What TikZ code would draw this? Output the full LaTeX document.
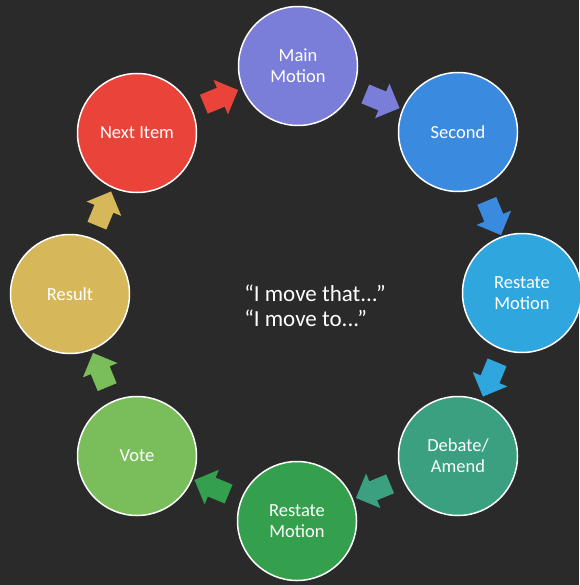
\documentclass[tikz,border=0pt]{standalone}
\usepackage{fontspec}
\setmainfont{Carlito}
\usetikzlibrary{shapes.arrows,calc}
\definecolor{bg}{RGB}{42,42,42}
\definecolor{cMain}{RGB}{122,126,216}
\definecolor{cSecond}{RGB}{58,138,224}
\definecolor{cRestA}{RGB}{48,166,222}
\definecolor{cDebate}{RGB}{58,160,128}
\definecolor{cRestB}{RGB}{52,160,78}
\definecolor{cVote}{RGB}{122,190,92}
\definecolor{cResult}{RGB}{214,184,90}
\definecolor{cNext}{RGB}{234,68,58}
\tikzset{
  stage/.style={circle, draw=white, line width=1.5pt, fill=#1, minimum size=119pt,
    inner sep=0pt, text=white, font=\fontsize{18.5}{21}\selectfont, align=center},
  blockarrow/.style={single arrow, fill=#1, draw=none, minimum height=37pt,
    inner xsep=0pt, inner ysep=10pt, single arrow head extend=8.5pt},
}
\begin{document}
\begin{tikzpicture}[x=1pt,y=-1pt]
\fill[bg] (0,0) rectangle (579,585);
\useasboundingbox (0,0) rectangle (579,585);
\coordinate (c) at (297,294);
\node[stage=cMain]   (s1) at (298,66)  {Main\\Motion};
\node[stage=cSecond] (s2) at (458,132) {Second};
\node[stage=cRestA]  (s3) at (522,293) {Restate\\Motion};
\node[stage=cDebate] (s4) at (458,456) {Debate/\\Amend};
\node[stage=cRestB]  (s5) at (297,521) {Restate\\Motion};
\node[stage=cVote]   (s6) at (137,456) {Vote};
\node[stage=cResult] (s7) at (70,294)  {Result};
\node[stage=cNext]   (s8) at (137,133) {Next Item};
\node[text=white, font=\fontsize{23}{25}\selectfont, align=left] (t) at (315,306)
  {“I move that...”\\“I move to...”};
\foreach \col [count=\k from 0] in {cNext,cMain,cSecond,cRestA,cDebate,cRestB,cVote,cResult}{
  \pgfmathsetmacro{\ang}{112.5-45*\k}
  \pgfmathsetmacro{\rot}{\ang-90}
  \node[blockarrow=\col, rotate=\rot] (a\k) at ($(c)+({211*cos(\ang)},{-211*sin(\ang)})$) {};
}
\end{tikzpicture}
\end{document}
